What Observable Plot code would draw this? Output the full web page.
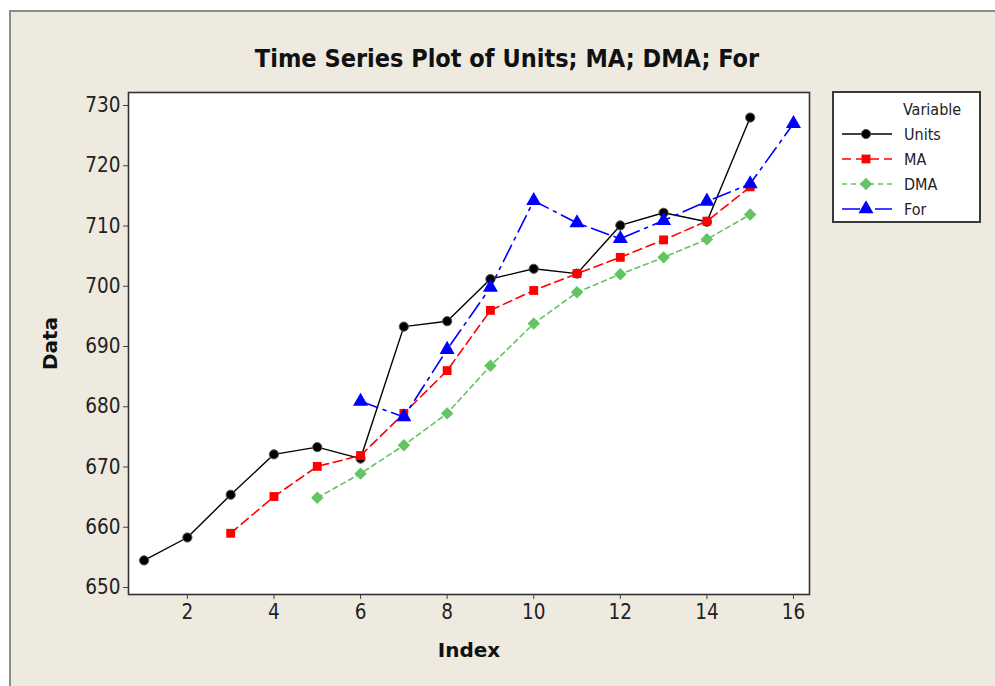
<!DOCTYPE html>
<html><head><meta charset="utf-8">
<script src="https://cdn.jsdelivr.net/npm/d3@7"></script>
<script src="https://cdn.jsdelivr.net/npm/@observablehq/plot@0.6"></script>
<style>
body{margin:0;background:#fff;}
#wrap{position:relative;width:995px;height:686px;overflow:hidden;font-family:"DejaVu Sans Condensed","DejaVu Sans",sans-serif;}
#panel{position:absolute;left:9px;top:10px;width:990px;height:680px;background:#EEEAE0;border-left:2px solid #8c8c8c;border-top:2px solid #8c8c8c;}
#chart{position:absolute;left:0;top:0;}
#title{position:absolute;left:157px;width:700px;top:44px;text-align:center;font-weight:bold;font-size:25px;line-height:30px;color:#111;}
#legend{position:absolute;left:832px;top:91px;width:145px;height:128px;background:#fff;border:2px solid #3a3a3a;box-sizing:content-box;}
#legend .hdr{position:absolute;left:69px;top:7px;font-size:16px;color:#222;}
#legend .row{position:absolute;left:6px;height:20px;display:flex;align-items:center;font-size:16px;color:#222;}
#legend .row svg{margin-right:10px;}
</style></head>
<body>
<div id="wrap">
  <div id="panel"></div>
  <div id="chart"></div>
  <div id="title"></div>
  <div id="legend"></div>
</div>
<script>
const titleText = "Time Series Plot of Units; MA; DMA; For";
const xLabel = "Index";
const yLabel = "Data";
const index = [1, 2, 3, 4, 5, 6, 7, 8, 9, 10, 11, 12, 13, 14, 15, 16];
const units = [654.5, 658.3, 665.4, 672.1, 673.3, 671.4, 693.3, 694.2, 701.2, 702.9, 702.1, 710.1, 712.2, 710.7, 728.0, null];
const ma = [null, null, 659.0, 665.1, 670.1, 671.9, 678.9, 686.0, 696.0, 699.3, 702.1, 704.8, 707.7, 710.8, 716.5, null];
const dma = [null, null, null, null, 664.9, 668.9, 673.6, 678.9, 686.8, 693.8, 699.0, 702.0, 704.8, 707.8, 711.9, null];
const forecast = [null, null, null, null, null, 680.9, 678.3, 689.5, 699.8, 714.2, 710.5, 707.9, 710.9, 714.1, 717.0, 727.0];
const xTicks = [2, 4, 6, 8, 10, 12, 14, 16];
const yTicks = [650, 660, 670, 680, 690, 700, 710, 720, 730];

const seriesDefs = [
  {name: "Units", values: units, color: "#000000", dash: null, symbol: "circle", r: 4.6, width: 1.4},
  {name: "MA", values: ma, color: "#ff0000", dash: "9,5", symbol: "square", r: 5.0, width: 1.6},
  {name: "DMA", values: dma, color: "#62c462", dash: "5,4", symbol: "diamond2", r: 5.6, width: 1.6},
  {name: "For", values: forecast, color: "#0000ff", dash: "18,6,3,6", symbol: "triangle", r: 5.6, width: 1.6}
];

const rows = seriesDefs.map(s => index.map((x, i) => ({x, y: s.values[i], name: s.name})).filter(d => d.y != null));

const font = '"DejaVu Sans Condensed","DejaVu Sans",sans-serif';
const boldFont = '"DejaVu Sans",sans-serif';
const marks = [
  Plot.frame({fill: "white"}),
  Plot.axisX({ticks: xTicks, tickSize: 5, fontSize: 20.5, label: null, tickPadding: 5, stroke: "#444", fill: "#222"}),
  Plot.axisY({ticks: yTicks, tickSize: 5, fontSize: 20.5, label: null, tickPadding: 3, stroke: "#444", fill: "#222"}),
  Plot.text([xLabel], {frameAnchor: "bottom", dy: 62, text: d => d, fontSize: 20, fontWeight: "bold", fontFamily: boldFont, fill: "#111"}),
  Plot.text([yLabel], {frameAnchor: "left", dx: -78, rotate: -90, textAnchor: "middle", text: d => d, fontSize: 20, fontWeight: "bold", fontFamily: boldFont, fill: "#111"})
];
seriesDefs.forEach((s, k) => {
  marks.push(Plot.line(rows[k], {x: "x", y: "y", stroke: s.color, strokeWidth: s.width, strokeDasharray: s.dash || undefined}));
});
seriesDefs.forEach((s, k) => {
  marks.push(Plot.dot(rows[k], {x: "x", y: "y", symbol: () => s.symbol, fill: s.color, stroke: s.name === "Units" ? "#555" : "none", strokeWidth: 1, r: s.r}));
});
marks.push(Plot.frame({stroke: "#333", strokeWidth: 1.6}));

const chart = Plot.plot({
  width: 995, height: 686,
  marginLeft: 128, marginRight: 186, marginTop: 92, marginBottom: 92,
  x: {domain: [0.64, 16.37]},
  y: {domain: [648.84, 732.16]},
  style: {background: "transparent", fontFamily: font, overflow: "visible"},
  marks
});
document.getElementById("chart").appendChild(chart);
document.getElementById("title").textContent = titleText;

// legend
const leg = document.getElementById("legend");
const hdr = document.createElement("div");
hdr.className = "hdr"; hdr.textContent = "Variable";
leg.appendChild(hdr);
const symMap = {circle: d3.symbolCircle, square: d3.symbolSquare, diamond2: d3.symbolDiamond2, triangle: d3.symbolTriangle};
seriesDefs.forEach((s, k) => {
  const row = document.createElement("div");
  row.className = "row";
  row.style.top = (31 + k * 25) + "px";
  const svg = d3.create("svg").attr("width", 54).attr("height", 20);
  svg.append("line").attr("x1", 2).attr("x2", 52).attr("y1", 10).attr("y2", 10)
    .attr("stroke", s.color).attr("stroke-width", s.width).attr("stroke-dasharray", s.dash);
  svg.append("path").attr("transform", "translate(26,10)")
    .attr("d", d3.symbol(symMap[s.symbol], Math.PI * s.r * s.r)())
    .attr("fill", s.color).attr("stroke", s.name === "Units" ? "#555" : "none");
  row.appendChild(svg.node());
  const t = document.createElement("span");
  t.textContent = s.name;
  row.appendChild(t);
  leg.appendChild(row);
});
</script>
</body></html>
